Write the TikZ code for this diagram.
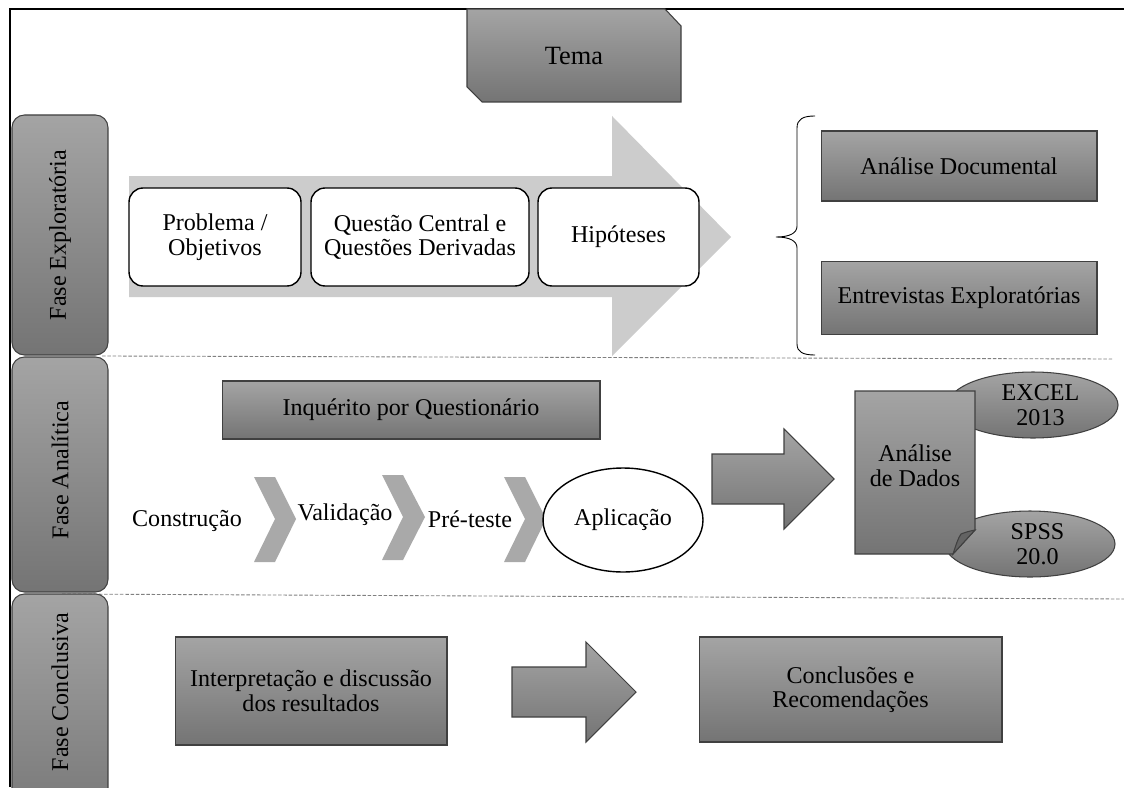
\documentclass[tikz,border=0pt]{standalone}
\usepackage{fontspec}
\setmainfont{Liberation Serif}
\usetikzlibrary{shapes.geometric}
\definecolor{gtop}{HTML}{A4A4A4}
\definecolor{gbot}{HTML}{747474}
\definecolor{lightarrow}{HTML}{CCCCCC}
\definecolor{chev}{HTML}{A9A9A9}
\definecolor{edgec}{HTML}{404040}
\begin{document}
\begin{tikzpicture}[x=0.02cm,y=-0.02cm,
  font=\fontsize{13.7}{14}\selectfont,
  shadedbox/.style={draw=edgec,line width=0.6pt,top color=gtop,bottom color=gbot},
  darkbox/.style={shadedbox,align=center,inner sep=0pt},
  whitebox/.style={draw=black,line width=0.8pt,fill=white,rounded corners=0.28cm,align=center,inner sep=0pt},
  chevron/.style={fill=chev},
  lbl/.style={align=center,inner sep=0pt},
  sepline/.style={draw=gray,dash pattern=on 2pt off 1pt,line width=0.5pt},
  swell/.style={ellipse,shadedbox,align=center,inner sep=0pt},
  bigarrow/.style={fill=lightarrow},
  frameline/.style={draw=black,line width=1.3pt}
]
\useasboundingbox (0,0) rectangle (1124,787);
\fill[white] (0,0) rectangle (1124,787);

% separators
\draw[sepline] (102,356) -- (1112,359);
\draw[sepline] (62,594) -- (1124,599);

% phase boxes
\begin{scope}
\clip (0,0) rectangle (1124,787);
\draw[shadedbox,rounded corners=0.25cm] (12,115) rectangle (108,355);
\draw[shadedbox,rounded corners=0.25cm] (12,357) rectangle (108,592);
\draw[shadedbox,rounded corners=0.25cm] (12,594) rectangle (108,840);
\end{scope}
\node[rotate=90,lbl] (fexp) at (60,235) {Fase Exploratória};
\node[rotate=90,lbl] (fana) at (60,470) {Fase Analítica};
\node[rotate=90,lbl] (fcon) at (60,692) {Fase Conclusiva};

% frame
\draw[frameline] (10,787) -- (10,9) -- (1124,9);

% Tema
\draw[shadedbox] (467,9) -- (665,9) -- (681,26) -- (681,102) -- (482,102) -- (467,87) -- cycle;
\node[lbl,font=\fontsize{15}{16}\selectfont] (tema) at (574,56) {Tema};

% big light arrow
\fill[bigarrow] (129,176) -- (612,176) -- (612,116) -- (731,237) -- (612,356) -- (612,297) -- (129,297) -- cycle;

\node[whitebox,minimum width=3.44cm,minimum height=1.96cm] (prob) at (215,237) {Problema /\\Objetivos};
\node[whitebox,minimum width=4.36cm,minimum height=1.96cm] (quest) at (420,237) {Questão Central e\\Questões Derivadas};
\node[whitebox,minimum width=3.22cm,minimum height=1.96cm] (hip) at (618.5,237) {Hipóteses};

% brace
\coordinate (bracetip) at (776,237);
\draw[line width=0.5pt] (815,116) .. controls (803,116) and (797,119) .. (797,128) -- (797,226)
  .. controls (797,233) and (790,237) .. (bracetip)
  .. controls (790,237) and (797,241) .. (797,248) -- (797,344)
  .. controls (797,352) and (803,355) .. (815,355);

\node[darkbox,minimum width=5.52cm,minimum height=1.4cm] (adoc) at (959,166) {Análise Documental};
\node[darkbox,minimum width=5.52cm,minimum height=1.46cm] (entr) at (959,298) {Entrevistas Exploratórias};

% analytic phase
\node[darkbox,minimum width=7.56cm,minimum height=1.16cm] (inq) at (411,410) {Inquérito por Questionário};

\fill[chevron] (254,477) -- (275,477) -- (296,519) -- (275,562) -- (254,562) -- (275,519) -- cycle;
\fill[chevron] (382,475) -- (403,475) -- (425,517) -- (403,560) -- (382,560) -- (403,517) -- cycle;
\fill[chevron] (504,477) -- (525,477) -- (546,519) -- (525,562) -- (504,562) -- (525,519) -- cycle;

\node[lbl] (constr) at (187,521) {Construção};
\node[lbl] (valid) at (345,515) {Validação};
\node[lbl] (pret) at (470,519) {Pré-teste};
\node[ellipse,draw=black,line width=0.8pt,fill=white,minimum width=3.2cm,minimum height=2.08cm,inner sep=0pt] (apl) at (623,520) {Aplicação};

\draw[shadedbox] (712,454) -- (784,454) -- (784,429) -- (834,479) -- (784,529) -- (784,504) -- (712,504) -- cycle;

\node[swell,minimum width=3.4cm,minimum height=1.32cm] (excel) at (1033,405) {\hspace*{0.3cm}EXCEL\\\hspace*{0.3cm}2013};
\node[swell,minimum width=3.4cm,minimum height=1.32cm] (spss) at (1030,544) {\hspace*{0.3cm}SPSS\\\hspace*{0.3cm}20.0};

\draw[shadedbox] (855,391) -- (975,391) -- (975,530) -- (953,554) -- (855,554) -- cycle;
\draw[draw=edgec,line width=0.6pt,fill=gbot!85!black] (975,530) -- (953,554) .. controls (956,545) and (958,538) .. (961,534) .. controls (966,532) and (970,531) .. (975,530) -- cycle;
\node[lbl] (dados) at (915,466) {Análise\\de Dados};

% conclusive phase
\node[darkbox,minimum width=5.44cm,minimum height=2.16cm] (interp) at (311,691) {Interpretação e discussão\\dos resultados};
\draw[shadedbox] (512,667) -- (586,667) -- (586,642) -- (636,692) -- (586,742) -- (586,717) -- (512,717) -- cycle;
\node[darkbox,minimum width=6.06cm,minimum height=2.1cm] (concl) at (850.5,689.5) {Conclusões e\\Recomendações};
\end{tikzpicture}
\end{document}
